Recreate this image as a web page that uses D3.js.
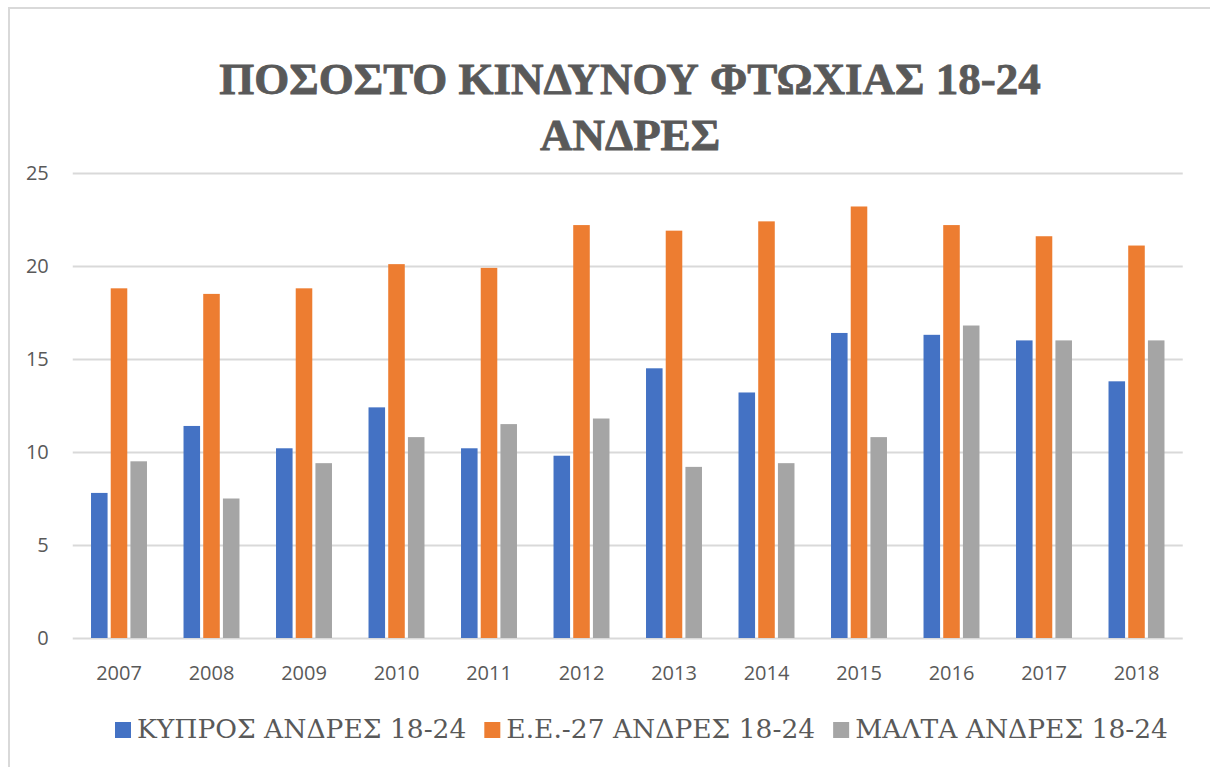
<!DOCTYPE html>
<html>
<head>
<meta charset="utf-8">
<script src="https://cdn.jsdelivr.net/npm/d3@7"></script>
<style>
body{margin:0;background:#fff;}
</style>
</head>
<body>
<div id="content"></div>
<script>
// data
var years=["2007","2008","2009","2010","2011","2012","2013","2014","2015","2016","2017","2018"];
var seriesNames=["ΚΥΠΡΟΣ ΑΝΔΡΕΣ 18-24","Ε.Ε.-27 ΑΝΔΡΕΣ 18-24","ΜΑΛΤΑ ΑΝΔΡΕΣ 18-24"];
var cyprus=[7.8,11.4,10.2,12.4,10.2,9.8,14.5,13.2,16.4,16.3,16.0,13.8];
var eu27=[18.8,18.5,18.8,20.1,19.9,22.2,21.9,22.4,23.2,22.2,21.6,21.1];
var malta=[9.5,7.5,9.4,10.8,11.5,11.8,9.2,9.4,10.8,16.8,16.0,16.0];
var yTicks=[0,5,10,15,20,25];
var titleLines=["ΠΟΣΟΣΤΟ ΚΙΝΔΥΝΟΥ ΦΤΩΧΙΑΣ 18-24","ΑΝΔΡΕΣ"];

var colors=["#4472C4","#ED7D31","#A5A5A5"];
var width=1210,height=767;
var margin={'left':72.75,'top':173,'right':27.25,'bottom':129};
var textColor="#595959";

var rows=years.map(function(y,i){return {year:y,values:[cyprus[i],eu27[i],malta[i]]};});

var svg=d3.select("#content").append("svg")
	.attr("width",width)
	.attr("height",height);

// chart frame (cropped)
svg.append("path")
	.attr("d","M9,767V8H1210")
	.attr("fill","none")
	.attr("stroke","#d9d9d9")
	.attr("stroke-width",2);

var x=d3.scaleBand().domain(years).range([margin.left,width-margin.right]).paddingInner(0.395).paddingOuter(0.1975);
var xs=d3.scaleBand().domain([0,1,2]).range([0,x.bandwidth()]).paddingInner(0.16);
var y=d3.scaleLinear().domain([0,25]).range([height-margin.bottom,margin.top]);

// gridlines
var yAxis=svg.append("g")
	.attr("transform","translate("+margin.left+",0)")
	.call(d3.axisLeft(y).tickValues(yTicks).tickSize(-(width-margin.left-margin.right)).tickPadding(24));
yAxis.select(".domain").remove();
yAxis.selectAll(".tick line").attr("stroke","#d9d9d9").attr("stroke-width",2);
yAxis.selectAll(".tick text")
	.attr("fill",textColor)
	.style("font-family","'Open Sans'")
	.style("font-size","20px");

// bars
var groups=svg.selectAll(".grp")
	.data(rows)
	.enter()
	.append("g")
	.attr("transform",function(d){return "translate("+x(d.year)+",0)";});

groups.selectAll("rect")
	.data(function(d){return d.values;})
	.enter()
	.append("rect")
	.attr("x",function(d,i){return xs(i);})
	.attr("y",function(d){return y(d);})
	.attr("width",xs.bandwidth())
	.attr("height",function(d){return y(0)-y(d);})
	.attr("fill",function(d,i){return colors[i];});

// x axis labels
var xAxis=svg.append("g")
	.attr("transform","translate(0,"+y(0)+")")
	.call(d3.axisBottom(x).tickSize(0).tickPadding(28));
xAxis.select(".domain").remove();
xAxis.selectAll(".tick text")
	.attr("fill",textColor)
	.style("font-family","'Open Sans'")
	.style("font-size","20px");

// title
var title=svg.append("text")
	.attr("text-anchor","middle")
	.attr("fill",textColor)
	.attr("stroke",textColor)
	.attr("stroke-width",0.8)
	.style("font-family","'Liberation Serif'")
	.style("font-weight","bold")
	.style("font-size","45px");
title.selectAll("tspan")
	.data(titleLines)
	.enter()
	.append("tspan")
	.attr("x",630)
	.attr("y",function(d,i){return 94+i*56;})
	.text(function(d){return d;});

// legend
var legend=svg.append("g").attr("transform","translate(115,738)");
var lx=0;
seriesNames.forEach(function(name,i){
	var item=legend.append("g").attr("transform","translate("+lx+",0)");
	item.append("rect")
		.attr("x",0)
		.attr("y",-16)
		.attr("width",16)
		.attr("height",16)
		.attr("fill",colors[i]);
	var t=item.append("text")
		.attr("x",22)
		.attr("y",0)
		.attr("fill",textColor)
		.style("font-family","'DejaVu Serif'")
		.style("font-size","26.5px")
		.text(name);
	lx+=22+t.node().getComputedTextLength()+18;
});
</script>
</body>
</html>
